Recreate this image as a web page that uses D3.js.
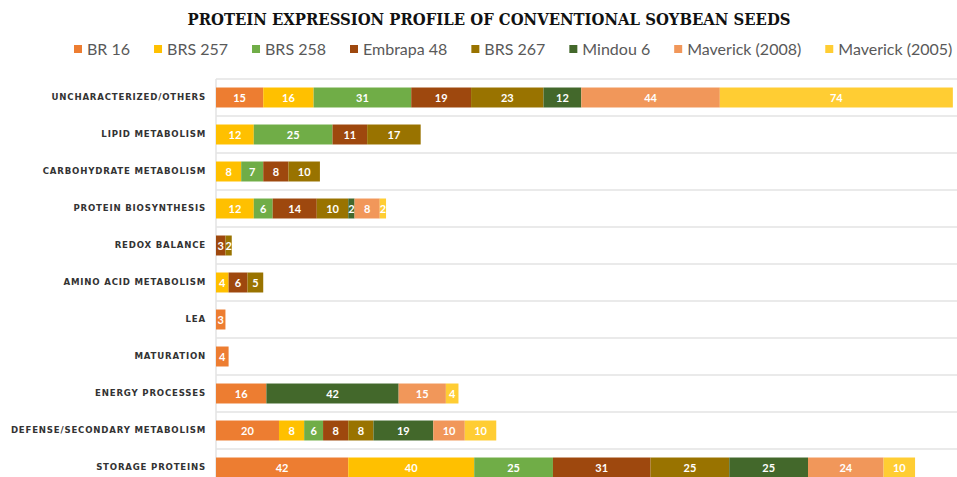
<!DOCTYPE html>
<html>
<head>
<meta charset="utf-8">
<script src="https://cdn.jsdelivr.net/npm/d3@7"></script>
<style>
  html, body { margin: 0; padding: 0; background: #ffffff; }
  svg { display: block; }
</style>
</head>
<body>
<svg id="chart" width="957" height="477"></svg>
<script>
// Protein categories, top to bottom
const categories = [
  "UNCHARACTERIZED/OTHERS",
  "LIPID METABOLISM",
  "CARBOHYDRATE METABOLISM",
  "PROTEIN BIOSYNTHESIS",
  "REDOX BALANCE",
  "AMINO ACID METABOLISM",
  "LEA",
  "MATURATION",
  "ENERGY PROCESSES",
  "DEFENSE/SECONDARY METABOLISM",
  "STORAGE PROTEINS"
];

// Cultivars (stack order)
const seriesNames = ["BR 16", "BRS 257", "BRS 258", "Embrapa 48", "BRS 267", "Mindou 6", "Maverick (2008)", "Maverick (2005)"];
const seriesColors = ["#ED7D31", "#FFC000", "#70AD47", "#9E480E", "#997300", "#43682B", "#F1975A", "#FFCD33"];

// Protein counts per cultivar, one value per category
const br16         = [15, 0, 0, 0, 0, 0, 3, 4, 16, 20, 42];
const brs257       = [16, 12, 8, 12, 0, 4, 0, 0, 0, 8, 40];
const brs258       = [31, 25, 7, 6, 0, 0, 0, 0, 0, 6, 25];
const embrapa48    = [19, 11, 8, 14, 3, 6, 0, 0, 0, 8, 31];
const brs267       = [23, 17, 10, 10, 2, 5, 0, 0, 0, 8, 25];
const mindou6      = [12, 0, 0, 2, 0, 0, 0, 0, 42, 19, 25];
const maverick2008 = [44, 0, 0, 8, 0, 0, 0, 0, 15, 10, 24];
const maverick2005 = [74, 0, 0, 2, 0, 0, 0, 0, 4, 10, 10];

const seriesValues = [br16, brs257, brs258, embrapa48, brs267, mindou6, maverick2008, maverick2005];

const titleText = "PROTEIN EXPRESSION PROFILE OF CONVENTIONAL SOYBEAN SEEDS";

// Build a row table for d3.stack
const rows = categories.map((c, i) => {
  const r = { category: c };
  seriesNames.forEach((s, j) => { r[s] = seriesValues[j][i]; });
  return r;
});

const svg = d3.select("#chart");
const W = 957, H = 477;
const plotLeft = 216, plotRight = 956, plotTop = 79;

const x = d3.scaleLinear().domain([0, 235]).range([plotLeft, plotRight]);
const y = d3.scaleBand()
  .domain(categories)
  .range([plotTop, plotTop + 37 * categories.length])
  .paddingInner(0.46)
  .paddingOuter(0.23);

const color = d3.scaleOrdinal().domain(seriesNames).range(seriesColors);

// Title
svg.append("text")
  .attr("x", 489).attr("y", 25)
  .attr("text-anchor", "middle")
  .attr("font-family", "'DejaVu Serif', 'Liberation Serif', serif")
  .attr("font-weight", "bold")
  .attr("font-size", 16)
  .attr("fill", "#111111")
  .attr("textLength", 603)
  .attr("lengthAdjust", "spacingAndGlyphs")
  .text(titleText);

// Legend, laid out left to right
const legend = svg.append("g").attr("class", "legend");
let lx = 74;
seriesNames.forEach((name) => {
  const g = legend.append("g");
  g.append("rect")
    .attr("x", lx).attr("y", 45)
    .attr("width", 8).attr("height", 8)
    .attr("fill", color(name));
  const t = g.append("text")
    .attr("x", lx + 13).attr("y", 55)
    .attr("font-family", "Lato, 'Open Sans', sans-serif")
    .attr("font-size", 16)
    .attr("fill", "#595959")
    .text(name);
  lx += 13 + t.node().getComputedTextLength() + 24;
});

// Horizontal separators at band boundaries
const step = y.step();
const boundaries = categories.map(c => y(c) - (y.paddingInner() * step) / 2);
boundaries.push(y(categories[categories.length - 1]) + y.bandwidth() + (y.paddingInner() * step) / 2);
svg.append("g")
  .selectAll("line")
  .data(boundaries)
  .join("line")
  .attr("x1", plotLeft).attr("x2", W)
  .attr("y1", d => d).attr("y2", d => d)
  .attr("stroke", "#e3e3e3")
  .attr("stroke-width", 1.5);

// Vertical category axis line
svg.append("line")
  .attr("x1", plotLeft).attr("x2", plotLeft)
  .attr("y1", plotTop).attr("y2", H)
  .attr("stroke", "#e3e3e3")
  .attr("stroke-width", 1.5);

// Category labels
const yAxis = d3.axisLeft(y).tickSize(0).tickPadding(10);
const axisG = svg.append("g")
  .attr("transform", `translate(${plotLeft},0)`)
  .call(yAxis);
axisG.select(".domain").remove();
axisG.selectAll("text")
  .attr("font-family", "'DejaVu Sans', sans-serif")
  .attr("font-weight", "bold")
  .attr("font-size", 8.6)
  .attr("letter-spacing", 0.8)
  .attr("fill", "#333333");

// Stacked bars
const stack = d3.stack().keys(seriesNames);
const layers = stack(rows);

const layerG = svg.append("g")
  .selectAll("g")
  .data(layers)
  .join("g")
  .attr("fill", d => color(d.key));

layerG.selectAll("rect")
  .data(d => d.filter(p => p[1] - p[0] > 0))
  .join("rect")
  .attr("x", p => x(p[0]))
  .attr("y", p => y(p.data.category))
  .attr("width", p => x(p[1]) - x(p[0]))
  .attr("height", y.bandwidth());

// Value labels inside segments
layerG.selectAll("text")
  .data(d => d.filter(p => p[1] - p[0] > 0))
  .join("text")
  .attr("x", p => (x(p[0]) + x(p[1])) / 2)
  .attr("y", p => y(p.data.category) + y.bandwidth() / 2 + 4)
  .attr("text-anchor", "middle")
  .attr("font-family", "Lato, 'Open Sans', sans-serif")
  .attr("font-weight", "bold")
  .attr("font-size", 11)
  .attr("fill", "#ffffff")
  .text(p => p[1] - p[0]);
</script>
</body>
</html>
